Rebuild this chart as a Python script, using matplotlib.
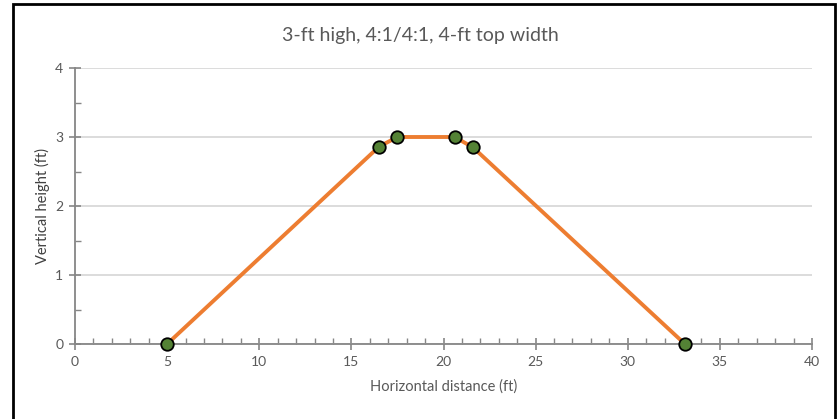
import matplotlib
matplotlib.use("Agg")
import matplotlib.pyplot as plt
from matplotlib.patches import Rectangle
from matplotlib.ticker import MultipleLocator

x_ft = [5.0, 16.5, 17.5, 20.6, 21.6, 33.1]
y_ft = [0.0, 2.86, 3.0, 3.0, 2.85, 0.0]
title = "3-ft high, 4:1/4:1, 4-ft top width"
xlabel = "Horizontal distance (ft)"
ylabel = "Vertical height (ft)"

plt.rcParams['font.family'] = ['Lato', 'DejaVu Sans']
gray = "#595959"
axc = "#868686"

fig = plt.figure(figsize=(8.39, 4.19), dpi=100)
W, H = 839, 419
ax = fig.add_axes([75/W, 1-344/H, (812-75)/W, (344-68)/H])
ax.set_xlim(0, 40)
ax.set_ylim(0, 4)
ax.xaxis.set_major_locator(MultipleLocator(5))
ax.xaxis.set_minor_locator(MultipleLocator(1))
ax.yaxis.set_major_locator(MultipleLocator(1))
ax.yaxis.set_minor_locator(MultipleLocator(0.5))
ax.grid(axis='y', which='major', color='#d9d9d9', lw=1.3)
ax.set_axisbelow(True)
for s in ['top', 'right']:
    ax.spines[s].set_visible(False)
for s in ['left', 'bottom']:
    ax.spines[s].set_color(axc)
    ax.spines[s].set_linewidth(1.3)
ax.tick_params(which='major', direction='inout', length=9, width=1.2, color=axc,
               labelsize=10, labelcolor=gray, pad=4)
ax.tick_params(which='minor', direction='in', length=4, width=1.0, color=axc)
ax.plot(x_ft, y_ft, color='#ED7D31', lw=2.8, marker='o', ms=9,
        mfc='#548235', mec='black', mew=1.3, clip_on=False, zorder=3)
ax.set_xlabel(xlabel, fontsize=10.5, color=gray, labelpad=8)
ax.set_ylabel(ylabel, fontsize=10.5, color='#404040', labelpad=4)
fig.text(420/W, 1-35/H, title, ha='center', va='center', fontsize=14, color=gray)
fig.patches.append(Rectangle((12.5/W, -0.1), (834.5-12.5)/W, 1.1 - 4.5/H,
                             transform=fig.transFigure, fill=False,
                             edgecolor='black', lw=2, zorder=10))
fig.savefig("out.png", dpi=100)
